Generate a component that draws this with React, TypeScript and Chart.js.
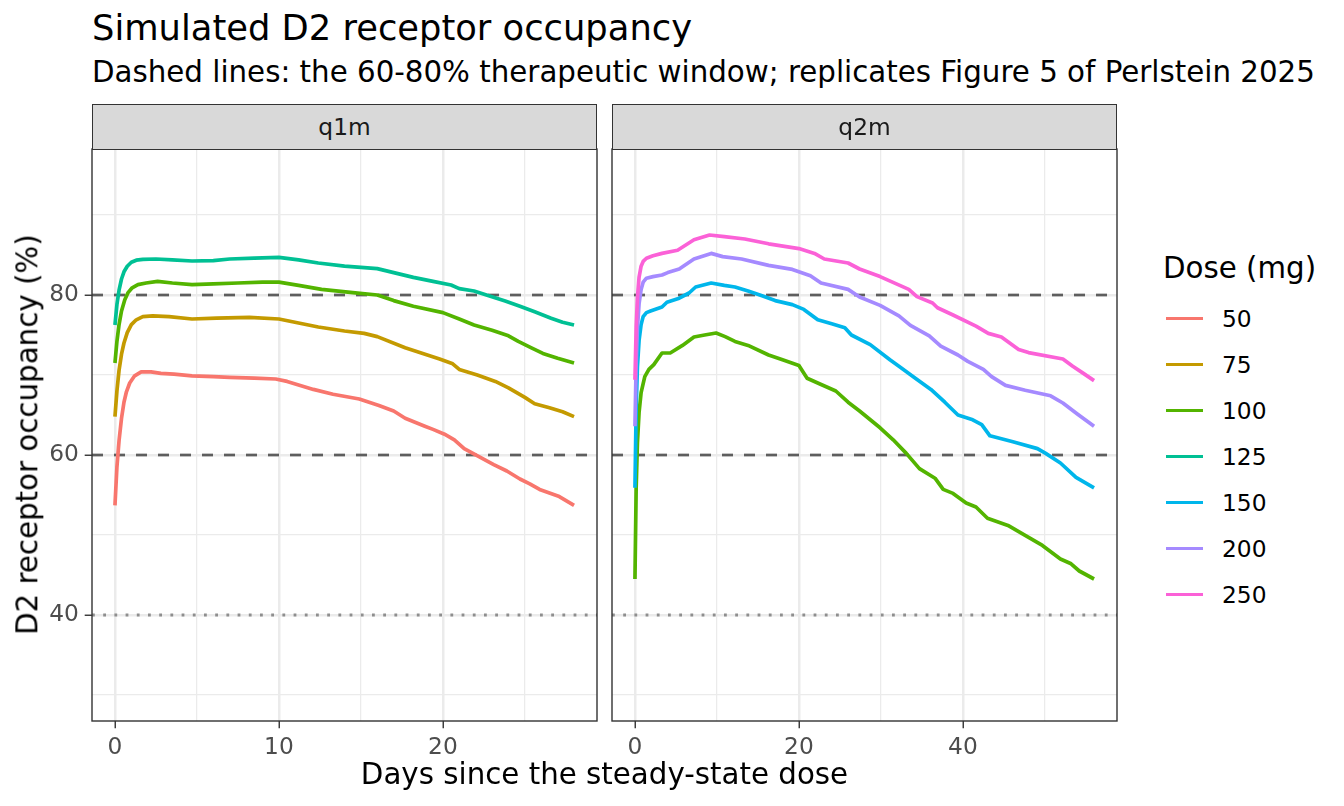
import { useEffect, useRef } from 'react';
import { Chart, registerables } from 'chart.js';

Chart.register(...registerables);

const FONT = '"DejaVu Sans", Verdana, sans-serif';

const doses = ['50', '75', '100', '125', '150', '200', '250'];
const doseColors = ['#F8766D', '#C49A00', '#53B400', '#00C094', '#00B6EB', '#A58AFF', '#FB61D7'];

// q1m panel (days 0-28)
const q1m50Days = [0, 0.12, 0.25, 0.4, 0.55, 0.7, 0.9, 1.2, 1.6, 2.2, 2.8, 3.6, 4.7, 6, 7, 8.5, 9.8, 10.5, 11.3, 12.1, 13.3, 14.9, 16.1, 17, 17.7, 18.9, 19.4, 20.1, 20.7, 21.3, 22.2, 23.1, 23.9, 24.7, 25.3, 25.9, 27.1, 28];
const q1m50Occ = [53.7, 58.5, 61.8, 64.6, 66.6, 67.9, 69.0, 69.9, 70.4, 70.4, 70.2, 70.1, 69.9, 69.8, 69.7, 69.6, 69.5, 69.2, 68.7, 68.2, 67.6, 67.0, 66.2, 65.5, 64.6, 63.6, 63.2, 62.6, 61.9, 60.8, 59.8, 58.8, 58.0, 57.0, 56.4, 55.7, 54.8, 53.7];

const q1m75Days = [0, 0.12, 0.25, 0.4, 0.55, 0.75, 1.0, 1.3, 1.7, 2.3, 3.3, 4.7, 6.2, 8.2, 10, 11.2, 12.4, 14, 15.2, 16, 17.7, 19.8, 20.6, 21, 22.1, 23.2, 24, 25, 25.6, 26.5, 27.3, 28];
const q1m75Occ = [64.8, 68.0, 70.6, 72.6, 74.0, 75.3, 76.3, 76.9, 77.3, 77.4, 77.3, 77.0, 77.1, 77.2, 77.0, 76.5, 76.0, 75.5, 75.2, 74.8, 73.4, 72.0, 71.4, 70.7, 70.0, 69.2, 68.4, 67.2, 66.4, 65.9, 65.4, 64.8];

const q1m100Days = [0, 0.12, 0.25, 0.4, 0.6, 0.8, 1.05, 1.4, 1.9, 2.6, 3.5, 4.7, 6, 7.5, 9, 10, 11.2, 12.6, 14.5, 16, 17, 18.2, 20, 21, 21.9, 23, 24, 24.6, 25.4, 26.1, 27, 28];
const q1m100Occ = [71.5, 74.2, 76.3, 78.0, 79.4, 80.3, 80.9, 81.3, 81.5, 81.7, 81.5, 81.3, 81.4, 81.5, 81.6, 81.6, 81.2, 80.7, 80.3, 80.0, 79.3, 78.6, 77.8, 77.0, 76.25, 75.6, 74.9, 74.2, 73.4, 72.7, 72.1, 71.5];

const q1m125Days = [0, 0.12, 0.25, 0.4, 0.55, 0.75, 1.0, 1.3, 1.7, 2.5, 3.5, 4.7, 6, 7, 8.5, 10, 11.2, 12.4, 14, 16, 17, 18.2, 19.4, 20.5, 21, 21.9, 22.8, 23.8, 24.7, 25.6, 26.6, 27.3, 28];
const q1m125Occ = [76.25, 78.8, 80.6, 82.0, 82.9, 83.6, 84.1, 84.35, 84.45, 84.5, 84.4, 84.25, 84.3, 84.5, 84.6, 84.7, 84.4, 84.0, 83.6, 83.3, 82.8, 82.2, 81.7, 81.25, 80.8, 80.5, 79.9, 79.25, 78.6, 77.9, 77.1, 76.6, 76.25];

// q2m panel (days 0-56)
const q2m100Days = [0, 0.15, 0.3, 0.5, 0.75, 1.2, 1.7, 2.3, 3.3, 4.3, 5.8, 7.2, 8.5, 9.9, 11, 12.2, 13.8, 16.3, 18, 20, 21, 22.5, 24.5, 26, 27.4, 29.9, 31.5, 33.1, 34.7, 36.6, 37.6, 38.8, 40.4, 41.6, 43, 45.5, 47.7, 49.7, 51.9, 53.2, 54.2, 56];
const q2m100Occ = [44.5, 56.0, 61.5, 65.3, 67.8, 69.8, 70.7, 71.3, 72.75, 72.75, 73.7, 74.75, 75.0, 75.25, 74.8, 74.2, 73.7, 72.5, 71.9, 71.2, 69.6, 68.9, 68.0, 66.6, 65.5, 63.4, 61.9, 60.2, 58.3, 57.1, 55.7, 55.2, 54.0, 53.5, 52.1, 51.2, 49.9, 48.7, 47.0, 46.4, 45.5, 44.5];

const q2m150Days = [0, 0.15, 0.3, 0.5, 0.75, 1, 1.4, 1.9, 3.3, 3.9, 5.4, 6.6, 7.4, 9.3, 10.9, 12.2, 13.8, 15.5, 17.1, 19.2, 20.6, 22.3, 24, 25.6, 26.4, 28.7, 31.1, 32.2, 34.2, 36.1, 37.8, 39.4, 41.2, 42.3, 43.3, 46.1, 49.1, 50.1, 51.9, 53.8, 56];
const q2m150Occ = [55.9, 66.0, 71.0, 74.3, 76.3, 77.3, 77.8, 78.0, 78.5, 79.1, 79.6, 80.25, 81.0, 81.5, 81.2, 81.0, 80.5, 79.9, 79.3, 78.8, 78.2, 76.9, 76.4, 75.9, 75.0, 73.8, 71.9, 71.1, 69.6, 68.2, 66.6, 65.0, 64.4, 63.8, 62.4, 61.65, 60.8, 60.2, 59.0, 57.2, 55.9];

const q2m200Days = [0, 0.15, 0.3, 0.5, 0.75, 1, 1.4, 2.2, 3.3, 4, 5.4, 7.2, 9.3, 10.7, 13, 16.3, 19.2, 21.4, 22.7, 26, 27.4, 29.9, 32.2, 33.6, 35.9, 37.3, 39.4, 40.6, 42.5, 43.5, 45.2, 47.6, 50.7, 52.2, 54, 56];
const q2m200Occ = [63.6, 71.5, 75.8, 78.9, 80.7, 81.6, 82.1, 82.3, 82.5, 82.8, 83.25, 84.5, 85.2, 84.8, 84.5, 83.7, 83.2, 82.4, 81.5, 80.7, 79.75, 78.7, 77.4, 76.2, 74.9, 73.6, 72.5, 71.7, 70.7, 69.8, 68.7, 68.1, 67.4, 66.5, 65.1, 63.6];

const q2m250Days = [0, 0.15, 0.3, 0.5, 0.75, 1, 1.4, 2.2, 3.3, 5.2, 7.2, 9.1, 10.9, 13.4, 16.3, 20, 21.9, 23.1, 26, 27.4, 29.9, 33.4, 34.4, 36.3, 36.9, 38.8, 41.6, 43.1, 44.7, 46.8, 48, 52.2, 53.4, 54.7, 56];
const q2m250Occ = [69.4, 76.0, 79.6, 82.2, 83.6, 84.2, 84.6, 84.9, 85.2, 85.6, 86.9, 87.5, 87.3, 87.0, 86.4, 85.8, 85.2, 84.5, 84.0, 83.25, 82.3, 80.7, 79.8, 79.0, 78.4, 77.5, 76.1, 75.2, 74.75, 73.2, 72.8, 72.0, 71.1, 70.2, 69.3];

// reference lines
const windowLimits = [60, 80];
const floorLimit = 40;

// axes
const yMajorTicks = [40, 60, 80];
const q1mMajorTicks = [0, 10, 20];
const q2mMajorTicks = [0, 20, 40];

// layout (px)
const PANEL_TOP = 149;
const PANEL_H = 572;
const PANEL_W = 505;
const Y_AXIS_W = 62;
const X_AXIS_H = 40;
const PAD = 30;
const PAD_TOP = 50;

type Series = { dose: string; days: number[]; occ: number[] };

const panels = [
  {
    label: 'q1m', left: 92, xMin: -1.4, xMax: 29.4, step: 5, majors: q1mMajorTicks, showY: true,
    series: [
      { dose: '50', days: q1m50Days, occ: q1m50Occ },
      { dose: '75', days: q1m75Days, occ: q1m75Occ },
      { dose: '100', days: q1m100Days, occ: q1m100Occ },
      { dose: '125', days: q1m125Days, occ: q1m125Occ },
    ] as Series[],
  },
  {
    label: 'q2m', left: 612, xMin: -2.8, xMax: 58.8, step: 10, majors: q2mMajorTicks, showY: false,
    series: [
      { dose: '100', days: q2m100Days, occ: q2m100Occ },
      { dose: '150', days: q2m150Days, occ: q2m150Occ },
      { dose: '200', days: q2m200Days, occ: q2m200Occ },
      { dose: '250', days: q2m250Days, occ: q2m250Occ },
    ] as Series[],
  },
];

const panelBorder = {
  id: 'panelBorder',
  afterDraw(chart: any) {
    const { ctx, chartArea: a } = chart;
    ctx.save();
    ctx.strokeStyle = '#333333';
    ctx.lineWidth = 1.4;
    ctx.strokeRect(a.left, a.top, a.right - a.left, a.bottom - a.top);
    ctx.restore();
  },
};

function Panel({ cfg }: { cfg: typeof panels[number] }) {
  const canvasRef = useRef<HTMLCanvasElement>(null);
  const axisW = cfg.showY ? Y_AXIS_W : 0;
  const w = PAD + axisW + PANEL_W + PAD;
  const h = PAD_TOP + PANEL_H + X_AXIS_H + PAD;

  useEffect(() => {
    const canvas = canvasRef.current;
    if (!canvas) return;

    const doseLines = cfg.series.map((s) => ({
      label: s.dose,
      data: s.days.map((d, i) => ({ x: d, y: s.occ[i] })),
      borderColor: doseColors[doses.indexOf(s.dose)],
      borderWidth: 3.7,
      borderJoinStyle: 'round',
      pointRadius: 0,
      tension: 0,
    })).reverse();

    const refLines = [
      ...windowLimits.map((v) => ({
        label: 'window',
        data: [{ x: cfg.xMin, y: v }, { x: cfg.xMax, y: v }],
        borderColor: '#5E5E5E',
        borderWidth: 2.7,
        borderDash: [11, 11],
        pointRadius: 0,
      })),
      {
        label: 'floor',
        data: [{ x: cfg.xMin, y: floorLimit }, { x: cfg.xMax, y: floorLimit }],
        borderColor: '#8E8E8E',
        borderWidth: 2.8,
        borderDash: [2.8, 8.4],
        pointRadius: 0,
      },
    ];

    const isXMajor = (ctx: any) => cfg.majors.includes(ctx.tick?.value);
    const isYMajor = (ctx: any) => yMajorTicks.includes(ctx.tick?.value);

    const chart = new Chart(canvas, {
      type: 'line',
      data: { datasets: [...doseLines, ...refLines] as any },
      options: {
        animation: false,
        responsive: false,
        events: [],
        layout: { padding: { top: PAD_TOP, left: PAD, right: PAD, bottom: PAD } },
        plugins: { legend: { display: false }, tooltip: { enabled: false } },
        scales: {
          x: {
            type: 'linear',
            min: cfg.xMin,
            max: cfg.xMax,
            afterFit: (scale: any) => { scale.height = X_AXIS_H; },
            border: { display: false },
            grid: {
              color: '#EBEBEB',
              lineWidth: (ctx: any) => (isXMajor(ctx) ? 2.5 : 1.25),
              tickColor: (ctx: any) => (isXMajor(ctx) ? '#333333' : 'rgba(0,0,0,0)'),
              tickLength: 7.3,
              tickWidth: 1.4,
            },
            ticks: {
              stepSize: cfg.step,
              includeBounds: false,
              autoSkip: false,
              maxRotation: 0,
              padding: 5.8,
              color: '#4D4D4D',
              font: { family: FONT, size: 23.3 },
              callback: (v: any) => (cfg.majors.includes(Number(v)) ? String(v) : ''),
            },
          },
          y: {
            type: 'linear',
            min: 26.75,
            max: 98.25,
            afterFit: (scale: any) => { scale.width = axisW; },
            border: { display: false },
            grid: {
              color: '#EBEBEB',
              lineWidth: (ctx: any) => (isYMajor(ctx) ? 2.5 : 1.25),
              drawTicks: cfg.showY,
              tickColor: (ctx: any) => (isYMajor(ctx) ? '#333333' : 'rgba(0,0,0,0)'),
              tickLength: 7.3,
              tickWidth: 1.4,
            },
            ticks: {
              display: cfg.showY,
              stepSize: 10,
              includeBounds: false,
              autoSkip: false,
              padding: 5.8,
              color: '#4D4D4D',
              font: { family: FONT, size: 23.3 },
              callback: (v: any) => (yMajorTicks.includes(Number(v)) ? String(v) : ''),
            },
          },
        },
      },
      plugins: [panelBorder],
    });

    return () => chart.destroy();
  }, []);

  return (
    <canvas
      ref={canvasRef}
      width={w}
      height={h}
      style={{ position: 'absolute', left: cfg.left - axisW - PAD, top: PANEL_TOP - PAD_TOP, width: w, height: h }}
    />
  );
}

// top of a line-height:1 box so that the DejaVu baseline lands on y
const topFor = (baseline: number, size: number) => baseline - 0.846 * size;

export default function App() {
  return (
    <div style={{ position: 'absolute', left: 0, top: 0, width: 1344, height: 806, background: '#ffffff', fontFamily: FONT, overflow: 'hidden' }}>
      <div style={{ position: 'absolute', left: 92, top: topFor(40, 35.3), fontSize: 35.3, lineHeight: 1, whiteSpace: 'nowrap', color: '#000' }}>
        Simulated D2 receptor occupancy
      </div>
      <div style={{ position: 'absolute', left: 92, top: topFor(83, 29.3), fontSize: 29.3, lineHeight: 1, whiteSpace: 'nowrap', color: '#000' }}>
        Dashed lines: the 60-80% therapeutic window; replicates Figure 5 of Perlstein 2025
      </div>

      {panels.map((p) => (
        <Panel key={p.label} cfg={p} />
      ))}

      {panels.map((p) => (
        <div
          key={'strip-' + p.label}
          style={{
            position: 'absolute', left: p.left, top: 104, width: PANEL_W, height: 46, boxSizing: 'border-box',
            background: '#D9D9D9', border: '1.4px solid #333333',
          }}
        >
          <div style={{ position: 'absolute', left: 0, right: 0, top: 22.5 - 0.482 * 23.3 - 1.4, textAlign: 'center', fontSize: 23.3, lineHeight: 1, color: '#1A1A1A' }}>
            {p.label}
          </div>
        </div>
      ))}

      <div style={{ position: 'absolute', left: 92, width: 1025, top: topFor(785, 29.3), textAlign: 'center', fontSize: 29.3, lineHeight: 1, whiteSpace: 'nowrap', color: '#000' }}>
        Days since the steady-state dose
      </div>
      <div
        style={{
          position: 'absolute', left: 28 - 300, top: 435 - 14.65, width: 600, height: 29.3, textAlign: 'center',
          fontSize: 29.3, lineHeight: 1, whiteSpace: 'nowrap', color: '#000', transform: 'rotate(-90deg)',
        }}
      >
        D2 receptor occupancy (%)
      </div>

      <div style={{ position: 'absolute', left: 1163, top: topFor(279, 29.3), fontSize: 29.3, lineHeight: 1, whiteSpace: 'nowrap', color: '#000' }}>
        Dose (mg)
      </div>
      {doses.map((d, i) => {
        const cy = 318.5 + 46 * i;
        return (
          <div key={d}>
            <div style={{ position: 'absolute', left: 1166, top: cy - 1.8, width: 37, height: 3.6, background: doseColors[i] }} />
            <div style={{ position: 'absolute', left: 1222, top: cy - 0.482 * 23.3, fontSize: 23.3, lineHeight: 1, whiteSpace: 'nowrap', color: '#000' }}>
              {d}
            </div>
          </div>
        );
      })}
    </div>
  );
}
